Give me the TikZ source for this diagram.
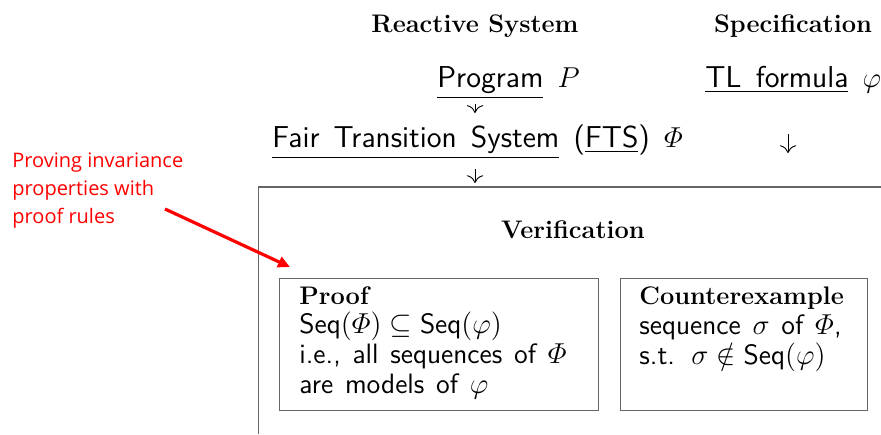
\documentclass[tikz,border=0pt]{standalone}
\usepackage{amsmath}
\usepackage{fontspec}
\newfontfamily\notefont{Open Sans}
\usetikzlibrary{arrows.meta}
\newcommand{\sfsize}{\fontsize{15.1}{14.5}\selectfont\sffamily\spaceskip=0.47em\relax}
\newcommand{\boxsize}{\fontsize{14}{14.8}\selectfont\sffamily\spaceskip=0.42em\relax}
\tikzset{
  hd/.style={inner sep=0pt, font=\fontsize{12.7}{14}\selectfont\rmfamily\bfseries},
  sf/.style={inner sep=0pt, font=\sfsize},
  conn/.style={-{Computer Modern Rightarrow[scale=1.5]}, line width=0.45pt},
  frame/.style={draw=black!60, line width=0.6pt},
  boxtext/.style={inner sep=0pt, align=left, anchor=base west, font=\boxsize},
  note/.style={inner sep=0pt, align=left, anchor=base west, text=red,
    font=\fontsize{10}{14}\selectfont\notefont},
  redarrow/.style={draw=red, line width=1.6pt, -{Triangle[length=6pt,width=5.5pt]}}
}
\newcommand{\bhd}[1]{{\fontsize{12.7}{14.8}\selectfont\rmfamily\bfseries #1}}
\begin{document}
\begin{tikzpicture}[x=0.5pt, y=-0.5pt]
\useasboundingbox (0,0) rectangle (881,434);
% headings
\node[hd, anchor=base] (rs) at (475,32) {Reactive System};
\node[hd, anchor=base] (spec) at (793,32) {Specification};
% sources
\node[sf, anchor=base west] (prog) at (437,87) {\underline{Program} $P$};
\node[sf, anchor=base west] (tl) at (705,87) {\underline{TL formula} $\varphi$};
\node[sf, anchor=base west] (fts) at (272,147) {\underline{Fair Transition System} (\underline{FTS}) $\varPhi$};
% verification frame
\coordinate (vtl) at (258.5,187);
\coordinate (vbl) at (258.5,434);
\coordinate (vtr) at (881,187);
\draw[frame] (vbl) -- (vtl) -- (vtr);
\node[hd, anchor=base] (ver) at (573,238) {Verification};
% arrows
\coordinate (colx) at (475,0);
\draw[conn, shorten <=2.25pt, shorten >=5.5pt] (prog.south -| colx) -- (fts.north -| colx);
\draw[conn, shorten <=5pt, shorten >=2pt] (fts.south -| colx) -- (vtl -| colx);
\coordinate (tlend) at (788,153);
\draw[conn, shorten <=20.5pt] (tl.south -| tlend) -- (tlend);
% boxes
\node[frame, anchor=north west, minimum width=159.5pt, minimum height=66pt, inner sep=0pt] (proofbox) at (279,278) {};
\node[frame, anchor=north west, minimum width=123.5pt, minimum height=66pt, inner sep=0pt] (cebox) at (620,278) {};
\node[boxtext] (prooftxt) at (299,393) {\bhd{Proof}\\
$\mathsf{Seq}(\varPhi) \subseteq \mathsf{Seq}(\varphi)$\\
i.e., all sequences of $\varPhi$\\
are models of $\varphi$};
\node[boxtext] (cetxt) at (639,364) {\bhd{Counterexample}\\
sequence $\sigma$ of $\varPhi$,\\
s.t.\ \,$\sigma \notin \mathsf{Seq}(\varphi)$};
% annotation
\node[note] (notetxt) at (12,223) {Proving invariance\\properties with\\proof rules};
\coordinate (rstart) at (165,209);
\coordinate (rend) at (290,267);
\draw[redarrow] (rstart) -- (rend);
\end{tikzpicture}
\end{document}
